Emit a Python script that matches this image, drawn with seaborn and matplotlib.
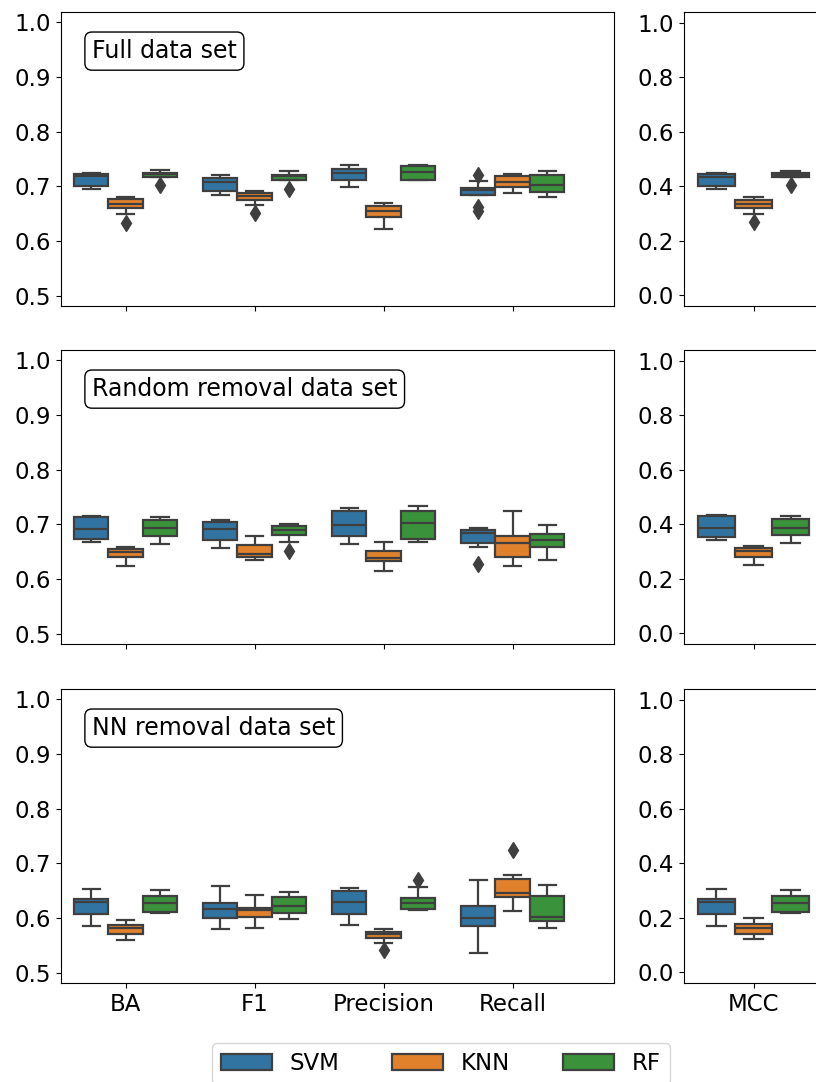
import matplotlib
matplotlib.use("Agg")
import matplotlib.pyplot as plt
import seaborn as sns
import pandas as pd

METRICS = ["BA", "F1", "Precision", "Recall"]
MCC = "MCC"
MODELS = ["SVM", "KNN", "RF"]
TITLES = ["Full data set", "Random removal data set", "NN removal data set"]

# ---- Full data set (10 folds per model / metric) ----
full_svm = {
    "BA": [.695, .698, .700, .700, .718, .718, .723, .723, .724, .725],
    "F1": [.684, .688, .692, .692, .708, .708, .715, .715, .718, .720],
    "Precision": [.699, .705, .711, .711, .724, .724, .731, .731, .735, .739],
    "Recall": [.655, .663, .6845, .6845, .694, .694, .6966, .6966, .709, .720],
    "MCC": [.389, .395, .402, .402, .433, .433, .445, .445, .448, .450],
}
full_knn = {
    "BA": [.633, .650, .660, .660, .668, .668, .676, .676, .679, .681],
    "F1": [.651, .665, .675, .675, .682, .682, .687, .687, .690, .692],
    "Precision": [.621, .632, .644, .644, .654, .654, .664, .664, .667, .669],
    "Recall": [.688, .693, .698, .698, .708, .708, .718, .718, .721, .723],
    "MCC": [.268, .299, .321, .321, .335, .335, .351, .351, .357, .362],
}
full_rf = {
    "BA": [.703, .717, .717, .717, .722, .722, .725, .725, .727, .729],
    "F1": [.696, .712, .712, .712, .718, .718, .721, .721, .725, .728],
    "Precision": [.711, .711, .712, .712, .727, .727, .737, .737, .738, .739],
    "Recall": [.681, .686, .690, .690, .703, .703, .721, .721, .725, .728],
    "MCC": [.404, .433, .433, .433, .443, .443, .449, .449, .453, .457],
}

# ---- Random removal data set ----
rand_svm = {
    "BA": [.668, .670, .673, .673, .692, .692, .713, .713, .715, .716],
    "F1": [.657, .665, .672, .672, .692, .692, .704, .704, .706, .708],
    "Precision": [.664, .671, .678, .678, .699, .699, .724, .724, .727, .729],
    "Recall": [.627, .659, .666, .666, .684, .684, .689, .689, .692, .694],
    "MCC": [.341, .346, .352, .352, .385, .385, .429, .429, .432, .434],
}
rand_knn = {
    "BA": [.624, .632, .640, .640, .649, .649, .655, .655, .657, .659],
    "F1": [.635, .638, .640, .640, .646, .646, .662, .662, .670, .679],
    "Precision": [.614, .623, .632, .632, .638, .638, .652, .652, .660, .668],
    "Recall": [.624, .632, .640, .640, .665, .665, .679, .679, .702, .725],
    "MCC": [.252, .267, .282, .282, .302, .302, .315, .315, .318, .321],
}
rand_rf = {
    "BA": [.664, .671, .678, .678, .694, .694, .708, .708, .711, .713],
    "F1": [.652, .668, .681, .681, .690, .690, .697, .697, .699, .701],
    "Precision": [.667, .670, .673, .673, .703, .703, .725, .725, .729, .733],
    "Recall": [.635, .646, .658, .658, .672, .672, .683, .683, .691, .699],
    "MCC": [.332, .346, .361, .361, .385, .385, .418, .418, .424, .429],
}

# ---- NN removal data set ----
nn_svm = {
    "BA": [.585, .596, .607, .607, .630, .630, .634, .634, .644, .653],
    "F1": [.579, .590, .600, .600, .617, .617, .628, .628, .644, .659],
    "Precision": [.588, .598, .607, .607, .630, .630, .649, .649, .652, .654],
    "Recall": [.536, .560, .585, .585, .600, .600, .622, .622, .645, .669],
    "MCC": [.171, .193, .215, .215, .259, .259, .269, .269, .288, .306],
}
nn_knn = {
    "BA": [.559, .565, .571, .571, .581, .581, .587, .587, .592, .596],
    "F1": [.582, .592, .601, .601, .614, .614, .619, .619, .631, .642],
    "Precision": [.542, .555, .563, .563, .571, .571, .575, .575, .578, .580],
    "Recall": [.612, .625, .638, .638, .645, .645, .671, .671, .678, .725],
    "MCC": [.121, .131, .141, .141, .164, .164, .176, .176, .187, .198],
}
nn_rf = {
    "BA": [.610, .610, .611, .611, .627, .627, .640, .640, .646, .652],
    "F1": [.599, .605, .610, .610, .622, .622, .639, .639, .644, .648],
    "Precision": [.614, .615, .616, .616, .628, .628, .636, .636, .656, .670],
    "Recall": [.582, .588, .595, .595, .602, .602, .641, .641, .650, .660],
    "MCC": [.218, .219, .221, .221, .255, .255, .281, .281, .292, .304],
}

DATASETS = [
    (full_svm, full_knn, full_rf),
    (rand_svm, rand_knn, rand_rf),
    (nn_svm, nn_knn, nn_rf),
]


def to_frame(groups):
    rows = []
    for model, d in zip(MODELS, groups):
        for metric, vals in d.items():
            for v in vals:
                rows.append({"metric": metric, "model": model, "value": v})
    return pd.DataFrame(rows)


W, H = 816, 1082
fig = plt.figure(figsize=(W / 100, H / 100), dpi=100)

FS = 16.5
FS_TITLE = 17
LINE = "#3f3f3f"
box_kw = dict(
    hue="model", hue_order=MODELS, x="metric", y="value",
    linewidth=1.6, linecolor=LINE, fliersize=8,
    flierprops=dict(marker="d", markerfacecolor=LINE, markeredgecolor=LINE),
)

tops = [12, 350, 689]
ax_h = 294
legend_handles = None
legend_labels = None

for i, (groups, title) in enumerate(zip(DATASETS, TITLES)):
    df = to_frame(groups)
    bottom = (H - (tops[i] + ax_h)) / H
    axL = fig.add_axes([61 / W, bottom, 553 / W, ax_h / H])
    axR = fig.add_axes([684 / W, bottom, 139 / W, ax_h / H])

    sns.boxplot(data=df[df.metric != MCC], order=METRICS, ax=axL, **box_kw)
    sns.boxplot(data=df[df.metric == MCC], order=[MCC], ax=axR, **box_kw)

    if legend_handles is None:
        leg = axL.get_legend()
        legend_handles = list(leg.legend_handles)
        legend_labels = [t.get_text() for t in leg.get_texts()]
    for ax in (axL, axR):
        lg = ax.get_legend()
        if lg is not None:
            lg.remove()
        ax.set_xlabel("")
        ax.set_ylabel("")
        ax.tick_params(labelsize=FS)
        if i < 2:
            ax.tick_params(labelbottom=False)

    axL.set_xlim(-0.5, 3.785)
    axL.set_ylim(0.481, 1.019)
    axL.set_yticks([0.5, 0.6, 0.7, 0.8, 0.9, 1.0])
    axR.set_xlim(-0.5, 0.5)
    axR.set_ylim(-0.0385, 1.0385)
    axR.set_yticks([0.0, 0.2, 0.4, 0.6, 0.8, 1.0])

    axL.text(0.056, 0.867, title, transform=axL.transAxes, fontsize=FS_TITLE,
             va="center", ha="left",
             bbox=dict(boxstyle="round", facecolor="white", edgecolor="black"))

fig.legend(legend_handles, legend_labels, loc="upper center",
           bbox_to_anchor=(441 / W, 39 / H), ncol=3, fontsize=FS,
           columnspacing=2.3, handlelength=2.2, borderaxespad=0.0)

fig.savefig("out.png", dpi=100)
